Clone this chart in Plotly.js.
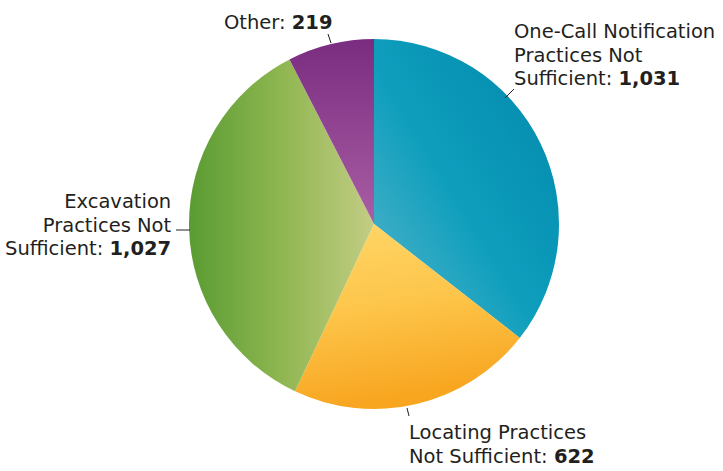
<!DOCTYPE html>
<html><head><meta charset="utf-8">
<script src="https://cdn.plot.ly/plotly-3.0.1.min.js"></script>
<style>html,body{margin:0;padding:0;background:#fff}#chart{width:723px;height:471px}</style>
</head><body><div id="chart"></div>
<script>
const categories = ["One-Call Notification Practices Not Sufficient", "Locating Practices Not Sufficient", "Excavation Practices Not Sufficient", "Other"];
const values = [1031, 622, 1027, 219];
const labelTexts = [
  "One-Call Notification<br>Practices Not<br>Sufficient: <b>1,031</b>",
  "Locating Practices<br>Not Sufficient: <b>622</b>",
  "Excavation<br>Practices Not<br>Sufficient: <b>1,027</b>",
  "Other: <b>219</b>"
];
const sliceColors = ["#0a94b4", "#fdc244", "#8db450", "#8e3f8c"];

const W = 723, H = 471;
const cx = 374, cy = 224, R = 185;

const trace = {
  type: "pie",
  labels: categories,
  values: values,
  sort: false,
  direction: "clockwise",
  rotation: 0,
  textinfo: "none",
  hoverinfo: "skip",
  marker: {colors: sliceColors, line: {width: 0}},
  domain: {x: [(cx - R) / W, (cx + R) / W], y: [(H - cy - R) / H, (H - cy + R) / H]},
  showlegend: false
};

const FS = 19.5;
const ASC = 0.928;
const LH = 23.7;
const font = {family: "DejaVu Sans, sans-serif", size: FS, color: "#231f20"};
// label placed by the baseline of its first line
function ann(i, x, firstBaseline, xanchor) {
  return {
    text: labelTexts[i], x: x / W, y: 1 - (firstBaseline - ASC * FS - 1) / H,
    xref: "paper", yref: "paper", xanchor: xanchor, yanchor: "top",
    align: xanchor, showarrow: false, font: font
  };
}
const seg = (x0, y0, x1, y1) => ({
  type: "line", xref: "paper", yref: "paper",
  x0: x0 / W, y0: 1 - y0 / H, x1: x1 / W, y1: 1 - y1 / H,
  line: {color: "#231f20", width: 1}
});

const layout = {
  width: W, height: H,
  margin: {l: 0, r: 0, t: 0, b: 0},
  paper_bgcolor: "#ffffff",
  annotations: [
    ann(0, 512, 37, "left"),
    ann(1, 407, 438, "left"),
    ann(2, 174, 207, "right"),
    ann(3, 222, 28, "left")
  ],
  shapes: [
    seg(505, 98, 514, 89),
    seg(407, 408, 409, 416),
    seg(176, 230, 190, 230),
    seg(328, 34, 331, 43)
  ]
};

const grads = [
  {x1: 0, y1: 1, x2: 1, y2: 0, stops: [["0", "#5bb6cb"], ["0.45", "#0f9fbd"], ["1", "#0086aa"]]},
  {x1: 0, y1: 0, x2: 0.2, y2: 1, stops: [["0", "#ffd769"], ["0.5", "#fdc54a"], ["1", "#f8a51f"]]},
  {x1: 0, y1: 0.5, x2: 1, y2: 0.5, stops: [["0", "#5a9c32"], ["0.5", "#8fb651"], ["1", "#c3cd85"]]},
  {x1: 0, y1: 0, x2: 0, y2: 1, stops: [["0", "#7a2c80"], ["1", "#a95ea4"]]}
];

Plotly.newPlot("chart", [trace], layout, {staticPlot: true, displayModeBar: false}).then(gd => {
  const NS = "http://www.w3.org/2000/svg";
  const svg = gd.querySelector(".main-svg");
  let defs = svg.querySelector("defs");
  if (!defs) { defs = document.createElementNS(NS, "defs"); svg.insertBefore(defs, svg.firstChild); }
  grads.forEach((g, i) => {
    const lg = document.createElementNS(NS, "linearGradient");
    lg.setAttribute("id", "sliceGrad" + i);
    ["x1", "y1", "x2", "y2"].forEach(k => lg.setAttribute(k, g[k]));
    g.stops.forEach(s => {
      const st = document.createElementNS(NS, "stop");
      st.setAttribute("offset", s[0]);
      st.setAttribute("stop-color", s[1]);
      lg.appendChild(st);
    });
    defs.appendChild(lg);
  });
  gd.querySelectorAll("g.slice").forEach((sl, i) => {
    const p = sl.querySelector("path.surface");
    if (p) p.style.fill = "url(#sliceGrad" + i + ")";
  });
  // tighten the line spacing of multi-line labels to match the reference
  gd.querySelectorAll(".annotation-text").forEach(txt => {
    const lines = txt.querySelectorAll("tspan.line");
    lines.forEach((t, k) => {
      if (k > 0) t.setAttribute("dy", (k * LH) + "px");
    });
  });
});
</script>
</body></html>
